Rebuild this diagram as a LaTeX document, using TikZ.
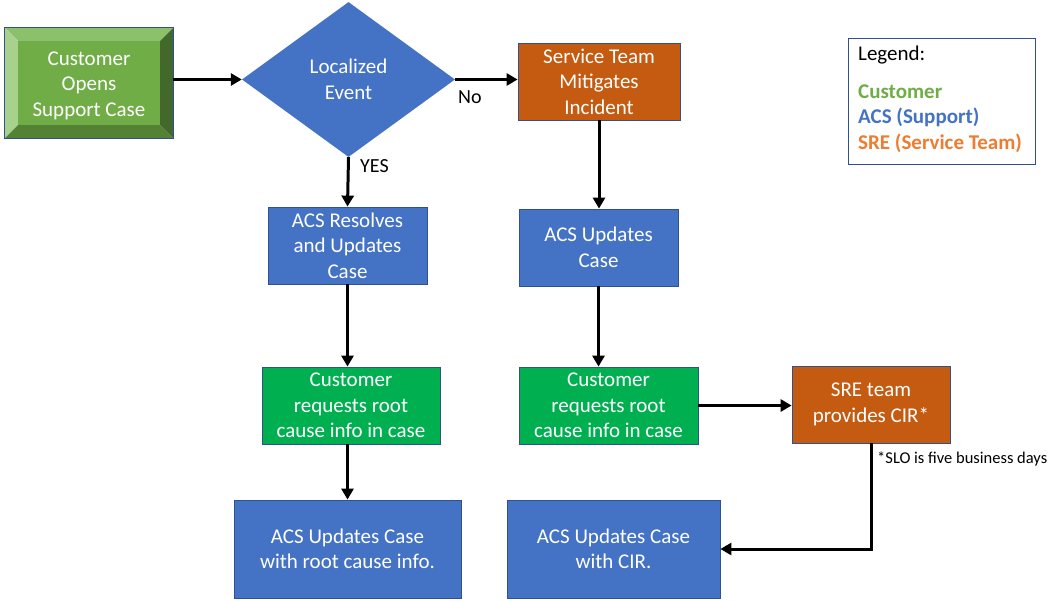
\documentclass[tikz,border=0pt]{standalone}
\usepackage{fontspec}
\setmainfont{Carlito}
\usetikzlibrary{arrows.meta,shapes.geometric,calc}
\definecolor{acsblue}{HTML}{4472C4}
\definecolor{edgeblue}{HTML}{2F528F}
\definecolor{sreorange}{HTML}{C55A11}
\definecolor{custgreen}{HTML}{00B050}
\definecolor{facegreen}{HTML}{70AD47}
\definecolor{bevtop}{HTML}{8DC06A}
\definecolor{bevleft}{HTML}{A9D18E}
\definecolor{bevbottom}{HTML}{548235}
\definecolor{bevright}{HTML}{43682B}
\definecolor{legorange}{HTML}{ED7D31}
\tikzset{
  boxtext/.style={text=white, font=\fontsize{21}{25.5}\selectfont, align=center, inner sep=0pt},
  flowbox/.style={boxtext, draw=edgeblue, line width=0.8pt, rectangle},
  acsbox/.style={flowbox, fill=acsblue},
  srebox/.style={flowbox, fill=sreorange},
  custbox/.style={flowbox, fill=custgreen},
  arr/.style={line width=3pt, -{Triangle[length=11pt,width=12pt]}},
  lbl/.style={font=\fontsize{20}{24}\selectfont, inner sep=0pt},
}
\begin{document}
\begin{tikzpicture}[x=1pt,y=-1pt]
\useasboundingbox (0,0) rectangle (1052,602);
% bevelled start box
\node[rectangle, minimum width=168pt, minimum height=110pt, inner sep=0pt] (open) at (89,83) {};
\fill[bevtop] (open.north west) -- (open.north east) -- ++(-13,13) -- ($(open.north west)+(13,13)$) -- cycle;
\fill[bevleft] (open.north west) -- (open.south west) -- ++(13,-13) -- ($(open.north west)+(13,13)$) -- cycle;
\fill[bevbottom] (open.south west) -- (open.south east) -- ++(-13,-13) -- ($(open.south west)+(13,-13)$) -- cycle;
\fill[bevright] (open.north east) -- (open.south east) -- ++(-13,-13) -- ($(open.north east)+(-13,13)$) -- cycle;
\fill[facegreen] ($(open.north west)+(13,13)$) rectangle ($(open.south east)+(-13,-13)$);
\draw[edgeblue, line width=0.8pt] (open.north west) rectangle (open.south east);
\node[boxtext] (opentext) at ($(open.center)+(0,2.5)$) {Customer\\Opens\\Support Case};
% decision
\node[diamond, boxtext, fill=acsblue, minimum width=213pt, minimum height=155pt] (dia) at (348.5,79.5) {Localized\\Event};
% boxes
\node[srebox, minimum width=162pt, minimum height=77pt] (svc) at (599,81.5) {Service Team\\Mitigates\\Incident};
\node[acsbox, minimum width=159pt, minimum height=77pt] (acsres) at (347.5,245.5) {ACS Resolves\\and Updates\\Case};
\node[acsbox, minimum width=159pt, minimum height=77pt] (acsupd) at (598.5,247.5) {ACS Updates\\Case};
\node[custbox, minimum width=178pt, minimum height=77pt] (custL) at (351,405.5) {Customer\\requests root\\cause info in case};
\node[custbox, minimum width=179pt, minimum height=77pt] (custR) at (608.5,405.5) {Customer\\requests root\\cause info in case};
\node[srebox, minimum width=158pt, minimum height=77pt] (sre) at (871,404.5) {SRE team\\provides CIR*};
\node[acsbox, minimum width=227pt, minimum height=98pt] (finL) at (347.5,549) {ACS Updates Case\\with root cause info.};
\node[acsbox, minimum width=213pt, minimum height=98pt] (finR) at (613.5,549) {ACS Updates Case\\with CIR.};
% connectors
\draw[arr] (open.east |- dia.west) -- (dia.west);
\draw[arr] (dia.east) -- (dia.east -| svc.west);
\node[lbl, anchor=west] (no) at (458,97) {No};
\draw[arr] (dia.south) -- (acsres.north);
\node[lbl, anchor=west] (yes) at (360,166) {YES};
\draw[arr] (svc.south) -- (svc.south |- acsupd.north);
\draw[arr] (acsres.south) -- (acsres.south |- custL.north);
\draw[arr] (acsupd.south) -- (acsupd.south |- custR.north);
\draw[arr] (finL.north |- custL.south) -- (finL.north);
\draw[arr] (custR.east) -- (custR.east -| sre.west);
\draw[arr] (sre.south) |- (finR.east);
\node[anchor=west, inner sep=0pt, font=\fontsize{16.5}{20}\selectfont] (slo) at (877,459) {*SLO is five business days};
% legend
\node[rectangle, draw=edgeblue, line width=0.8pt, fill=white, minimum width=187pt, minimum height=126pt] (legend) at (941.5,101) {};
\node[anchor=west, inner sep=0pt, font=\fontsize{21}{25}\selectfont] (lg) at (858,55) {Legend:};
\node[anchor=west, inner sep=0pt, font=\fontsize{21}{25}\selectfont\bfseries, text=facegreen] (lg1) at (858,92) {Customer};
\node[anchor=west, inner sep=0pt, font=\fontsize{21}{25}\selectfont\bfseries, text=acsblue] (lg2) at (858,117.5) {ACS (Support)};
\node[anchor=west, inner sep=0pt, font=\fontsize{21}{25}\selectfont\bfseries, text=legorange] (lg3) at (858,143) {SRE (Service Team)};
\end{tikzpicture}
\end{document}
